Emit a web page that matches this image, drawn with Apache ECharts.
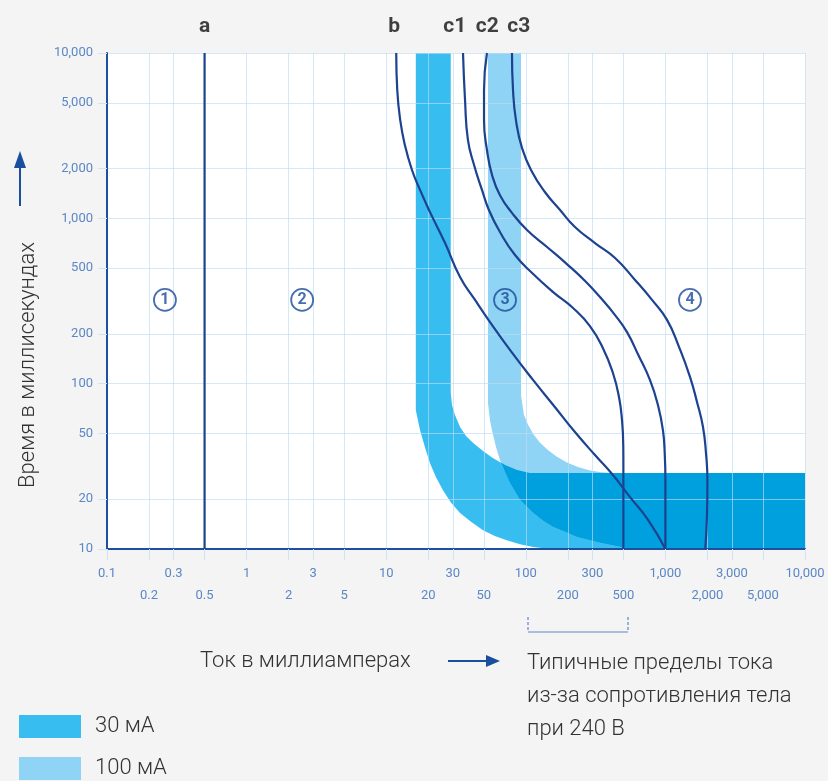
<!DOCTYPE html>
<html>
<head>
<meta charset="utf-8">
<script src="https://cdn.jsdelivr.net/npm/echarts@6/dist/echarts.min.js"></script>
<style>
  html, body { margin: 0; padding: 0; background: #f4f4f4; }
  #chart { width: 828px; height: 781px; }
</style>
</head>
<body>
<div id="chart"></div>
<script>
// Оси: ток (мА) и время (мс), обе логарифмические
const xTicks = [0.1, 0.2, 0.3, 0.5, 1, 2, 3, 5, 10, 20, 30, 50, 100, 200, 300, 500, 1000, 2000, 3000, 5000, 10000];
const xTickLabels = ['0.1', '0.2', '0.3', '0.5', '1', '2', '3', '5', '10', '20', '30', '50', '100', '200', '300', '500', '1,000', '2,000', '3,000', '5,000', '10,000'];
const yTicks = [10, 20, 50, 100, 200, 500, 1000, 2000, 5000, 10000];
const yTickLabels = ['10', '20', '50', '100', '200', '500', '1,000', '2,000', '5,000', '10,000'];

// Кривые: [ток, мА; время, мс]
const curveA = [[0.5, 10], [0.5, 10000]];
const curveB = [[11.8, 10000], [12, 5970], [12.6, 3930], [13.6, 2780], [15.3, 1960], [17.5, 1480], [20.6, 1090], [26.4, 709], [33.8, 442], [43.3, 321], [55.4, 236], [77, 160], [113, 105], [162, 72], [225, 51], [313, 37], [421, 28], [558, 20.6], [751, 15], [1000, 10]];
const curveC1 = [[35.5, 10000], [36.7, 5200], [38.5, 2980], [42.6, 2100], [48.6, 1480], [54.5, 1120], [65.3, 826], [83.7, 600], [111, 467], [157, 358], [218, 287], [288, 223], [357, 164], [421, 116], [465, 83], [489, 60], [499, 42.6], [500, 30], [500, 10]];
const curveC2 = [[52.7, 10000], [50.2, 5970], [50.2, 3930], [52.7, 2590], [57.3, 1830], [65.3, 1380], [79.6, 1080], [102, 850], [142, 671], [197, 529], [266, 418], [340, 334], [436, 260], [531, 205], [640, 149], [776, 105], [885, 74], [961, 52], [990, 37], [1000, 26], [1000, 10]];
const curveC3 = [[79.6, 10000], [81, 5970], [85, 3930], [94, 2660], [111, 1906], [137, 1443], [176, 1123], [225, 887], [313, 709], [436, 576], [606, 424], [802, 321], [1027, 243], [1251, 167], [1500, 110], [1684, 77.5], [1859, 54.7], [1953, 38], [2000, 26], [1986, 16], [1930, 10]];

// Зоны срабатывания УЗО (контуры полос)
const band30mA = [[16.3, 10000], [16.3, 69], [17.5, 52], [19, 41], [20.6, 33], [22.7, 27.3], [25.5, 22.7], [29, 19.2], [33.8, 16.5], [40.5, 14.6], [49.4, 13], [60, 12], [73, 11.3], [91, 10.7], [113, 10.3], [149, 10], [10000, 10],
  [10000, 28.8], [107, 28.8], [86.5, 30], [71, 32.2], [58, 35.5], [49.4, 39.1], [42, 43.8], [37.3, 48.3], [33.8, 54.7], [31.1, 64.6], [29.6, 74.3], [29, 88], [29, 10000]];
const band100mA = [[53.6, 10000], [53.6, 76], [55.4, 60], [57.3, 52], [61.2, 41.4], [65.3, 34.5], [71, 29.2], [77, 25.1], [91, 19.8], [113, 16.5], [133, 14.8], [157, 13.6], [191, 12.7], [233, 11.8], [340, 10.9], [530, 10.1], [658, 10], [10000, 10],
  [10000, 28.8], [421, 28.8], [346, 29.1], [284, 29.9], [236, 31.3], [197, 33.4], [167, 36.1], [144, 39.7], [126, 44.1], [113, 49.6], [104, 56.3], [97, 64.6], [92.4, 85], [92.4, 10000]];
const bandOverlap = [[66.5, 33.3], [71, 32.2], [86.5, 30], [107, 28.8], [10000, 28.8], [10000, 10], [658, 10], [530, 10.1], [340, 10.9], [233, 11.8], [191, 12.7], [157, 13.6], [133, 14.8], [113, 16.5], [91, 19.8], [77, 25.1], [71, 29.2]];

// Подписи кривых и зон
const curveNames = ['a', 'b', 'c1', 'c2', 'c3'];
const curveNameX = [0.5, 11.4, 31, 53, 89];
const zoneNames = ['1', '2', '3', '4'];
const zoneX = [0.26, 2.5, 71, 1500];
const zoneY = 321;

const toLog = p => [Math.log10(p[0]), Math.log10(p[1])];
const findTick = (ticks, v) => ticks.findIndex(t => Math.abs(Math.log10(t) - v) < 1e-6);

const LINE = '#1c4290';
const LABEL = '#5b87c5';
const GRID = 'rgba(190, 220, 245, 0.65)';
const TEXT_FONT = '300 22px Roboto';

function bandSeries(name, points, color) {
  return {
    name: name,
    type: 'custom',
    z: 1,
    silent: true,
    itemStyle: { color: color },
    data: points.map(toLog),
    renderItem(params, api) {
      if (params.dataIndex !== 0) return;
      return {
        type: 'polygon',
        shape: { points: points.map(p => api.coord(toLog(p))) },
        style: { fill: api.visual('color') }
      };
    }
  };
}

function curveSeries(points, smooth) {
  return {
    type: 'line',
    data: points.map(toLog),
    smooth: smooth,
    showSymbol: false,
    silent: true,
    z: 4,
    lineStyle: { color: LINE, width: 2.2 }
  };
}

const chart = echarts.init(document.getElementById('chart'));

chart.setOption({
  backgroundColor: '#f4f4f4',
  animation: false,
  textStyle: { fontFamily: 'Roboto' },
  grid: { left: 107, right: 23, top: 53, bottom: 232, show: true, backgroundColor: '#fff', borderWidth: 0 },
  legend: {
    data: ['30 мА', '100 мА'],
    orient: 'vertical',
    left: 19,
    top: 715,
    padding: 0,
    icon: 'rect',
    itemWidth: 62,
    itemHeight: 23,
    itemGap: 19,
    textStyle: { fontSize: 22, fontWeight: 300, color: '#333', padding: [0, 0, 0, 9] }
  },
  xAxis: {
    type: 'value',
    min: -1,
    max: 4,
    z: 3,
    axisLine: { show: true, onZero: false, lineStyle: { color: '#1f4f9f', width: 2 } },
    axisTick: { show: true, length: 11, customValues: xTicks.map(Math.log10), lineStyle: { color: '#d3e3f3' } },
    axisLabel: {
      customValues: xTicks.map(Math.log10),
      color: LABEL,
      fontSize: 13,
      lineHeight: 22,
      margin: 14,
      formatter: v => {
        const i = findTick(xTicks, v);
        return i % 2 ? '\n' + xTickLabels[i] : xTickLabels[i];
      }
    },
    splitLine: { show: true, lineStyle: { color: GRID, width: 1 } }
  },
  yAxis: {
    type: 'value',
    min: 1,
    max: 4,
    z: 3,
    axisLine: { show: true, onZero: false, lineStyle: { color: '#1f4f9f', width: 2 } },
    axisTick: { show: true, length: 9, customValues: yTicks.map(Math.log10), lineStyle: { color: '#d3e3f3' } },
    axisLabel: {
      customValues: yTicks.map(Math.log10),
      color: LABEL,
      fontSize: 13,
      margin: 14,
      formatter: v => yTickLabels[findTick(yTicks, v)]
    },
    splitLine: { show: true, lineStyle: { color: GRID, width: 1 } }
  },
  series: [
    bandSeries('30 мА', band30mA, '#38bdf0'),
    bandSeries('100 мА', band100mA, '#8fd4f5'),
    bandSeries('overlap', bandOverlap, '#00a0de'),
    curveSeries(curveA, false),
    curveSeries(curveB, 0.5),
    curveSeries(curveC1, 0.5),
    curveSeries(curveC2, 0.5),
    curveSeries(curveC3, 0.5),
    {
      type: 'scatter',
      z: 5,
      silent: true,
      clip: false,
      symbolSize: 1,
      itemStyle: { color: 'rgba(0,0,0,0)' },
      data: curveNames.map((n, i) => ({ name: n, value: [Math.log10(curveNameX[i]), 4] })),
      label: { show: true, position: 'top', distance: 15, formatter: p => p.name, color: '#111', fontSize: 21, fontWeight: 'bold' }
    },
    {
      type: 'scatter',
      z: 5,
      silent: true,
      symbol: 'circle',
      symbolSize: 22,
      itemStyle: { color: 'rgba(0,0,0,0)', borderColor: '#1a4a9a', borderWidth: 1.8 },
      data: zoneNames.map((n, i) => ({ name: n, value: [Math.log10(zoneX[i]), Math.log10(zoneY)] })),
      label: { show: true, position: 'inside', formatter: p => p.name, color: '#1a4a9a', fontSize: 16, fontWeight: 'bold' }
    }
  ],
  graphic: [
    // подпись и стрелка оси времени
    { type: 'text', x: 28, y: 365, rotation: Math.PI / 2, style: { text: 'Время в миллисекундах', fill: '#333', font: TEXT_FONT, align: 'center', verticalAlign: 'middle' } },
    { type: 'line', shape: { x1: 20, y1: 206, x2: 20, y2: 166 }, style: { stroke: '#1a4fa0', lineWidth: 2 } },
    { type: 'polygon', shape: { points: [[20, 151], [14, 168], [26, 168]] }, style: { fill: '#1a4fa0' } },
    // подпись оси тока
    { type: 'text', x: 200, y: 661, style: { text: 'Ток в миллиамперах', fill: '#333', font: TEXT_FONT, verticalAlign: 'middle' } },
    { type: 'line', shape: { x1: 448, y1: 661, x2: 488, y2: 661 }, style: { stroke: '#1a4fa0', lineWidth: 2 } },
    { type: 'polygon', shape: { points: [[500, 661], [486, 655], [486, 667]] }, style: { fill: '#1a4fa0' } },
    { type: 'text', x: 527, y: 647, style: { text: 'Типичные пределы тока\nиз-за сопротивления тела\nпри 240 В', fill: '#333', font: TEXT_FONT, lineHeight: 33, verticalAlign: 'top' } },
    // скобка 100–500 мА
    { type: 'line', shape: { x1: 528, y1: 617, x2: 528, y2: 632 }, style: { stroke: '#5b87c5', lineWidth: 1.2, lineDash: [3, 2] } },
    { type: 'line', shape: { x1: 628, y1: 617, x2: 628, y2: 632 }, style: { stroke: '#5b87c5', lineWidth: 1.2, lineDash: [3, 2] } },
    { type: 'line', shape: { x1: 528, y1: 632, x2: 628, y2: 632 }, style: { stroke: '#5b87c5', lineWidth: 1.2 } }
  ]
});
</script>
</body>
</html>
